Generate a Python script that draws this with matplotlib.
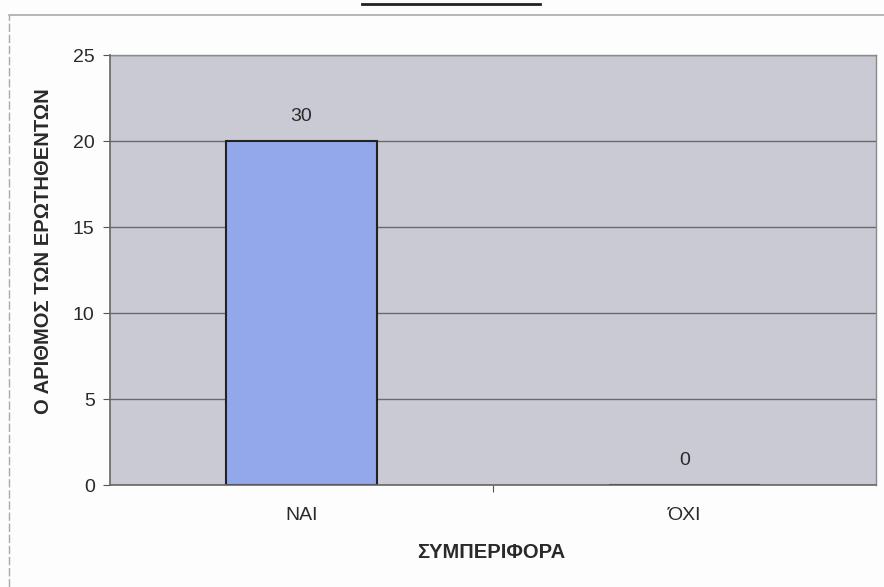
import matplotlib
matplotlib.use("Agg")
import matplotlib.pyplot as plt
from matplotlib.lines import Line2D

categories = ["ΝΑΙ", "ΌΧΙ"]
values = [20, 0]
value_labels = ["30", "0"]
yticks = [0, 5, 10, 15, 20, 25]

plt.rcParams['font.family'] = ['Liberation Sans', 'DejaVu Sans']

fig = plt.figure(figsize=(8.84, 5.87), dpi=100)
fig.patch.set_facecolor('#fdfdfd')
ax = fig.add_axes([110/884, 1-485/587, (876-110)/884, (485-55)/587])
ax.set_facecolor('#c9cad4')

x = list(range(len(categories)))
bars = ax.bar(x, values, width=0.395, color='#93a8ea', edgecolor='#222222', linewidth=1.5, zorder=2)
for xi, v, lab in zip(x, values, value_labels):
    ax.text(xi, v + 1.4, lab, ha='center', va='center', fontsize=14, color='#2a2a2a', zorder=4)

ax.set_xlim(-0.5, 1.5)
ax.set_ylim(0, 25)
ax.set_yticks(yticks)
ax.set_yticklabels([str(t) for t in yticks], fontsize=14, color='#2a2a2a')
ax.set_xticks([0.5], minor=False)
ax.set_xticklabels([''])
ax.tick_params(axis='x', length=5, color='#555555')
ax.tick_params(axis='y', length=5, color='#555555', pad=6)
for xi, c in zip(x, categories):
    ax.text(xi, -0.07, c, transform=ax.get_xaxis_transform(), ha='center', va='center',
            fontsize=14, color='#2a2a2a')
ax.yaxis.grid(True, color='#6a6a6a', linewidth=1.0, zorder=1)
ax.set_axisbelow(True)
for s in ['left', 'bottom']:
    ax.spines[s].set_color('#666666')
    ax.spines[s].set_linewidth(1.2)
    ax.spines[s].set_zorder(3)
for s in ['top', 'right']:
    ax.spines[s].set_color('#8a8a8a')
    ax.spines[s].set_linewidth(1.0)

fig.text(491/884, 1-553/587, "ΣΥΜΠΕΡΙΦΟΡΑ", ha='center', va='center', fontsize=14.5,
         fontweight='bold', color='#2a2a2a')
fig.text(44/884, 1-251/587, "Ο ΑΡΙΘΜΟΣ ΤΩΝ ΕΡΩΤΗΘΕΝΤΩΝ", ha='center', va='center', fontsize=14.5,
         fontweight='bold', color='#2a2a2a', rotation=90)

# scan frame decorations
fig.add_artist(Line2D([9/884, 1], [1-15/587, 1-15/587], transform=fig.transFigure, color='#aaaaaa', linewidth=1.2))
fig.add_artist(Line2D([9/884, 9/884], [0, 1-15/587], transform=fig.transFigure, color='#aaaaaa', linewidth=1.0, linestyle=(0, (6, 2))))
fig.add_artist(Line2D([362/884, 540/884], [1-4/587, 1-4/587], transform=fig.transFigure, color='#222222', linewidth=2))

fig.savefig("out.png", dpi=100, facecolor=fig.get_facecolor())
